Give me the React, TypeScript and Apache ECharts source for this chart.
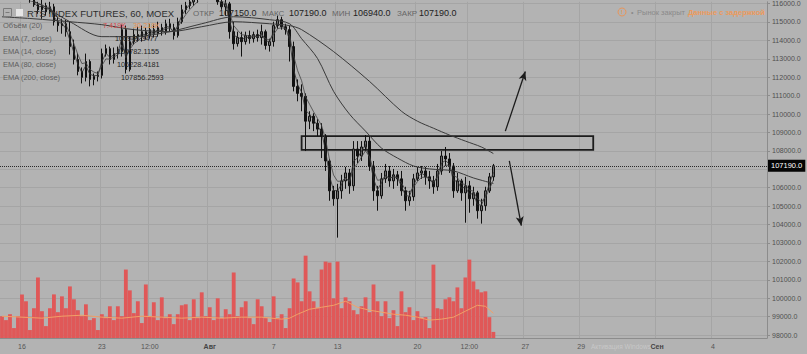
import React, { useEffect, useRef } from 'react';
import * as echarts from 'echarts';

// ---- data (hourly RTS futures aggregated into slots) ----
const SLOT_COUNT = 192;

const opens = [
  116420, 116580, 116470, 116630, 116420, 116520, 116360, 116470, 116200, 115930,
  115660, 115880, 115550, 115820, 115010, 114800, 114900, 114470, 113660, 112960,
  112310, 111990, 112850, 111880, 112040, 112100, 113280, 113550, 112960, 113280,
  113390, 114580, 112420, 113930, 114310, 114200, 114470, 114260, 114580, 114360,
  114690, 114470, 114900, 114690, 114260, 115010, 115660, 115880, 116090, 116250,
  116420, 116520, 116740, 116630, 116360, 116090, 115820, 115980, 114470, 113820,
  114150, 113930, 114260, 114090, 114310, 114150, 114470, 113720, 113930, 114800,
  115120, 114740, 114580, 113660, 111500, 111120, 110960, 109610, 109880, 109500,
  109180, 108800, 107450, 105830, 105400, 105830, 106370, 106800, 106100, 108100,
  107720, 108210, 108530, 107180, 105830, 105560, 106480, 106910, 106370, 106700,
  106480, 105830, 105290, 105510, 106480, 106800, 106910, 106590, 106370, 106050,
  106910, 107720, 107560, 107180, 105830, 106370, 105720, 106100, 105400, 105720,
  104750, 105020, 105830, 106590,
];
const closes = [
  116580, 116470, 116630, 116420, 116520, 116360, 116470, 116200, 115930, 115660,
  115880, 115550, 115820, 115010, 114800, 114900, 114470, 113660, 112960, 112310,
  111990, 112850, 111880, 112040, 112100, 113280, 113550, 112960, 113280, 113390,
  114580, 112420, 113930, 114310, 114200, 114470, 114260, 114580, 114360, 114690,
  114470, 114900, 114690, 114260, 115010, 115660, 115880, 116090, 116250, 116420,
  116520, 116740, 116630, 116360, 116090, 115820, 115980, 114470, 113820, 114150,
  113930, 114260, 114090, 114310, 114150, 114470, 113720, 113930, 114800, 115120,
  114740, 114580, 113660, 111500, 111120, 110960, 109610, 109880, 109500, 109180,
  108800, 107450, 105830, 105400, 105830, 106370, 106800, 106100, 108100, 107720,
  108210, 108530, 107180, 105830, 105560, 106480, 106910, 106370, 106700, 106480,
  105830, 105290, 105510, 106480, 106800, 106910, 106590, 106370, 106050, 106910,
  107720, 107560, 107180, 105830, 106370, 105720, 106100, 105400, 105720, 104750,
  105020, 105830, 106590, 107190,
];
const lows = [
  116310, 116360, 116360, 116250, 116200, 116200, 116200, 116040, 115820, 115440,
  115170, 115340, 115440, 114800, 114470, 114360, 114200, 113230, 112690, 112100,
  111660, 111770, 111500, 111560, 111770, 111930, 113120, 112690, 112740, 113010,
  113120, 112200, 112310, 113770, 113930, 113930, 114040, 114090, 114150, 114200,
  114260, 114310, 114470, 114040, 114150, 114900, 115440, 115710, 115880, 116040,
  116250, 116360, 116420, 116200, 115930, 115660, 115340, 114090, 113500, 113660,
  113120, 113770, 113820, 113880, 113930, 113770, 113500, 113390, 113660, 114630,
  114580, 114310, 112850, 111230, 110690, 110150, 107990, 109180, 109070, 108800,
  107610, 106910, 105290, 105020, 103290, 105400, 105940, 105670, 105830, 107340,
  107450, 107990, 106910, 105290, 104750, 105400, 106260, 106050, 105940, 106100,
  105560, 104750, 105020, 105290, 106370, 106480, 106160, 105940, 105670, 105830,
  106700, 107180, 106800, 105450, 105720, 105290, 104100, 104640, 105020, 104320,
  104050, 104750, 105720, 106370,
];
const highs = [
  116740, 116790, 116850, 116740, 116690, 116630, 116630, 116520, 116310, 116090,
  116200, 116040, 116090, 115980, 115280, 115170, 115120, 115010, 114040, 113280,
  112530, 113280, 112960, 112200, 112310, 113550, 113770, 113660, 113610, 113660,
  114850, 114800, 114200, 114630, 114740, 114800, 114690, 114900, 114850, 115010,
  114900, 115120, 115170, 114900, 115230, 115930, 116090, 116360, 116520, 116630,
  116790, 116960, 117010, 116850, 116520, 116310, 116250, 116090, 115010, 114470,
  114470, 114470, 114530, 114470, 114580, 114850, 114580, 114090, 115010, 115340,
  115280, 114900, 114800, 113930, 111880, 111610, 111120, 110150, 110040, 109720,
  109500, 108910, 107560, 106100, 106210, 106700, 107130, 107020, 108530, 108530,
  108530, 108860, 108750, 107450, 106100, 106800, 107290, 107180, 107020, 106910,
  106910, 106050, 105830, 106750, 107130, 107180, 107130, 106910, 106640, 107290,
  107990, 108210, 107880, 107340, 106800, 106480, 106590, 106370, 106050, 105830,
  105400, 106050, 106800, 107290,
];
const volumes = [
  26600, 21800, 29000, 12100, 26600, 53200, 44800, 9700, 36300, 73800,
  32700, 14500, 36300, 53200, 31500, 50800, 36300, 62900, 47200, 33900,
  26600, 41100, 21800, 24200, 9700, 29000, 24200, 38700, 21800, 38700,
  26600, 83500, 58100, 30300, 44800, 18200, 65300, 26600, 43600, 21800,
  49600, 24200, 29000, 16900, 29000, 39900, 41100, 21800, 47200, 24200,
  55700, 26600, 37500, 21800, 48400, 24200, 35100, 29000, 79900, 26600,
  37500, 44800, 24200, 16900, 47200, 38700, 24200, 19400, 50800, 24200,
  29000, 12100, 36300, 72600, 67800, 44800, 100400, 56900, 44800, 36300,
  83500, 93200, 92000, 48400, 93200, 36300, 49600, 44800, 33900, 29000,
  38700, 49600, 31500, 65300, 44800, 26600, 44800, 24200, 33900, 14500,
  56900, 31500, 37500, 21800, 32700, 24200, 25400, 12100, 89500, 36300,
  35100, 47200, 49600, 44800, 61700, 36300, 73800, 95600, 69000, 59300,
  55700, 56900, 25400, 7419,
];
const volumeMA = [
  [0, 26600], [5, 25400], [10, 24200], [15, 26600], [20, 27800], [25, 25400],
  [30, 24200], [35, 26600], [40, 25400], [45, 24200], [50, 25400], [55, 24200],
  [60, 25400], [65, 25400], [70, 23000], [72, 24200], [74, 29000], [77, 35100],
  [80, 37500], [83, 39900], [86, 44800], [89, 37500], [92, 33900], [95, 31500],
  [98, 29000], [101, 27800], [104, 25400], [107, 21800], [110, 23000], [113, 25400],
  [116, 32700], [119, 39900], [121, 38700], [123, 30218],
];
const ema80 = [
  [0, 116250], [8, 116090], [17, 115010], [25, 114200], [33, 114200], [42, 114470],
  [50, 114900], [58, 115280], [67, 115120], [72, 114900], [75, 114090], [79, 113010],
  [83, 111230], [87, 109990], [91, 109070], [95, 108150], [99, 107610], [103, 107180],
  [107, 107020], [113, 106910], [118, 106530], [123, 106228],
];
const ema200 = [
  [0, 115280], [8, 115170], [17, 115010], [25, 114850], [33, 114580], [42, 114470],
  [50, 114740], [58, 115010], [67, 114900], [72, 114800], [75, 114580], [83, 113390],
  [92, 111770], [100, 110150], [104, 109610], [108, 109230], [112, 108860], [116, 108530],
  [120, 108210], [123, 107856],
];
const priceTicks = [
  98000, 99000, 100000, 101000, 102000, 103000, 104000, 105000, 106000, 107000,
  108000, 109000, 110000, 111000, 112000, 113000, 114000, 115000, 116000,
];
// the 107000.0 label sits under the last-price box in the reference
const priceLabels = priceTicks.filter((v) => v !== 107000);
const xTickSlots = [5, 25, 37, 52, 68, 84, 104, 117, 131, 145, 164, 178];
const xTickLabels = ['16', '23', '12:00', 'Авг', '7', '13', '20', '12:00', '27', '29', 'Сен', '4'];
const monthLabels = ['Авг', 'Сен'];

const lastPrice = 107190;
const zone = { startSlot: 75, endSlot: 148, top: 108800, bottom: 108050 };
const upArrow = [[126, 109070], [131, 112310]];
const downArrow = [[127, 107450], [130, 103940]];
const BARS_PER_SLOT = 3.5;

function emaFromCloses(vals: number[], period: number): number[] {
  const a = 1 - Math.pow(1 - 2 / (period + 1), BARS_PER_SLOT);
  let e = vals[0];
  return vals.map((v) => (e = a * v + (1 - a) * e));
}

const FONT = 'Liberation Sans, Arial, sans-serif';

export default function App() {
  const ref = useRef<HTMLDivElement>(null);
  useEffect(() => {
    if (!ref.current) return;
    const chart = echarts.init(ref.current, undefined, { renderer: 'svg' });
    const slotNames = Array.from({ length: SLOT_COUNT }, (_, i) => 's' + i);
    const labelAt: Record<number, string> = {};
    xTickSlots.forEach((s, k) => (labelAt[s] = xTickLabels[k]));
    const isTick = (i: number) => labelAt[i] !== undefined;
    const candles = opens.map((o, i) => [o, closes[i], lows[i], highs[i]]);
    const ema7 = emaFromCloses(closes, 7);
    const ema14 = emaFromCloses(closes, 14);
    const txt = (x: number, y: number, text: string, size: number, fill: string, extra: any = {}) => ({
      type: 'text', x, y, z: 100,
      style: { text, fill, fontSize: size, fontFamily: FONT, verticalAlign: 'middle', ...extra },
    });

    const option: any = {
      animation: false,
      backgroundColor: '#b3b3b3',
      grid: { left: 0, right: 40, top: 0, bottom: 16, containLabel: false },
      xAxis: {
        type: 'category',
        data: slotNames,
        boundaryGap: true,
        axisLine: { show: true, lineStyle: { color: '#8c8c8c' } },
        axisTick: { show: false },
        axisLabel: {
          interval: (i: number) => isTick(i),
          formatter: (_v: string, i: number) => {
            const l = labelAt[i] || '';
            return monthLabels.includes(l) ? '{b|' + l + '}' : l;
          },
          color: '#555',
          fontSize: 7,
          fontFamily: FONT,
          margin: 5,
          rich: { b: { fontWeight: 'bold', fontSize: 7, color: '#444', fontFamily: FONT } },
        },
        splitLine: { show: true, interval: (i: number) => isTick(i), lineStyle: { color: '#a5a5a5', width: 1 } },
      },
      yAxis: [
        {
          type: 'value',
          position: 'right',
          min: 97840,
          max: 116090,
          axisLine: { show: true, lineStyle: { color: '#8c8c8c' } },
          axisTick: { show: true, length: 3, customValues: priceTicks, lineStyle: { color: '#8c8c8c' } },
          axisLabel: {
            customValues: priceLabels,
            formatter: (v: number) => v.toFixed(1),
            color: '#505050',
            fontSize: 7,
            fontFamily: FONT,
            margin: 5,
          },
          splitLine: { show: true, lineStyle: { color: '#a5a5a5', width: 1 } },
        },
        { type: 'value', show: false, min: 0, max: 410000, splitLine: { show: false } },
      ],
      series: [
        {
          name: 'Объём',
          type: 'bar',
          yAxisIndex: 1,
          data: volumes,
          barWidth: '96%',
          itemStyle: { color: '#e05858' },
          silent: true,
        },
        {
          name: 'Объём MA',
          type: 'line',
          yAxisIndex: 1,
          data: volumeMA,
          symbol: 'none',
          lineStyle: { color: '#f2a066', width: 1 },
          silent: true,
        },
        {
          name: 'RTS',
          type: 'candlestick',
          data: candles,
          barWidth: '50%',
          itemStyle: { color: '#6f6f6f', color0: '#111', borderColor: '#111', borderColor0: '#111', borderWidth: 1 },
          markArea: {
            silent: true,
            itemStyle: { color: 'rgba(0,0,0,0)', borderColor: '#1c1c1c', borderWidth: 1.8 },
            data: [[{ coord: [zone.startSlot, zone.top] }, { coord: [zone.endSlot, zone.bottom] }]],
          },
          markLine: {
            silent: true,
            symbol: ['none', 'arrow'],
            symbolSize: [6, 9],
            label: { show: false },
            lineStyle: { color: '#1c1c1c', width: 1.3, type: 'solid' },
            data: [
              [{ coord: upArrow[0] }, { coord: upArrow[1] }],
              [{ coord: downArrow[0] }, { coord: downArrow[1] }],
            ],
          },
        },
        { name: 'EMA 7', type: 'line', data: ema7, symbol: 'none', lineStyle: { color: '#2e2e2e', width: 0.8 }, silent: true },
        { name: 'EMA 14', type: 'line', data: ema14, symbol: 'none', lineStyle: { color: '#444', width: 0.8 }, silent: true },
        { name: 'EMA 80', type: 'line', data: ema80, symbol: 'none', smooth: 0.3, lineStyle: { color: '#3a3a3a', width: 1 }, silent: true },
        {
          name: 'EMA 200',
          type: 'line',
          data: ema200,
          symbol: 'none',
          smooth: 0.3,
          lineStyle: { color: '#3a3a3a', width: 1 },
          silent: true,
          markLine: {
            silent: true,
            symbol: ['none', 'none'],
            lineStyle: { color: '#2a2a2a', type: 'dotted', width: 1 },
            label: {
              show: true,
              position: 'end',
              distance: 1,
              formatter: () => lastPrice.toFixed(1),
              backgroundColor: '#050505',
              color: '#fff',
              fontSize: 7.5,
              fontFamily: FONT,
              padding: [2, 3, 2, 3],
            },
            data: [{ yAxis: lastPrice }],
          },
        },
      ],
      graphic: [
        { type: 'rect', z: 100, shape: { x: 3.5, y: 8.5, width: 8, height: 8 }, style: { fill: 'none', stroke: '#7a7a7a', lineWidth: 1 } },
        { type: 'line', z: 100, shape: { x1: 5.5, y1: 12.5, x2: 9.5, y2: 12.5 }, style: { stroke: '#7a7a7a', lineWidth: 1 } },
        { type: 'rect', z: 100, shape: { x: 16, y: 9, width: 7, height: 7 }, style: { fill: '#e6e6e6' } },
        txt(27, 13, 'RTS INDEX FUTURES, 60, MOEX', 9.5, '#2e2e2e'),
        txt(193, 13, 'ОТКР', 8, '#666'),
        txt(219, 13, '107150.0', 9, '#222'),
        txt(262, 13, 'МАКС', 8, '#666'),
        txt(289, 13, '107190.0', 9, '#222'),
        txt(332, 13, 'МИН', 8, '#666'),
        txt(353, 13, '106940.0', 9, '#222'),
        txt(397, 13, 'ЗАКР', 8, '#666'),
        txt(419, 13, '107190.0', 9, '#222'),
        txt(3, 25, 'Объём (20)', 7.5, '#5e5e5e'),
        txt(103, 25, '7.419K', 7.3, '#d94a4a'),
        txt(133, 25, '30.218K', 7.3, '#e8914c'),
        txt(3, 38, 'EMA (7, close)', 7.5, '#5e5e5e'),
        txt(115, 38, '106945.3477', 7.3, '#262626'),
        txt(3, 51, 'EMA (14, close)', 7.5, '#5e5e5e'),
        txt(117, 51, '106782.1155', 7.3, '#262626'),
        txt(3, 64, 'EMA (80, close)', 7.5, '#5e5e5e'),
        txt(117, 64, '106228.4181', 7.3, '#262626'),
        txt(3, 77, 'EMA (200, close)', 7.5, '#5e5e5e'),
        txt(121, 77, '107856.2593', 7.3, '#262626'),
        { type: 'circle', z: 100, shape: { cx: 622, cy: 12, r: 4 }, style: { fill: 'none', stroke: '#e8955a', lineWidth: 1 } },
        txt(621, 12, '!', 6, '#e8955a', { fontWeight: 'bold' }),
        txt(631, 12, '•', 7, '#8a8a8a'),
        txt(637, 12, 'Рынок закрыт', 7.5, '#8a8a8a'),
        txt(688, 12, 'Данные с задержкой', 7.5, '#ec9a5c', { fontWeight: 'bold' }),
        txt(591, 346, 'Активация Windows', 6.5, 'rgba(215,215,215,0.6)', { align: 'left' }),
      ],
    };
    chart.setOption(option);
    return () => chart.dispose();
  }, []);
  return <div ref={ref} style={{ position: 'fixed', left: 0, top: 0, width: 807, height: 354 }} />;
}
